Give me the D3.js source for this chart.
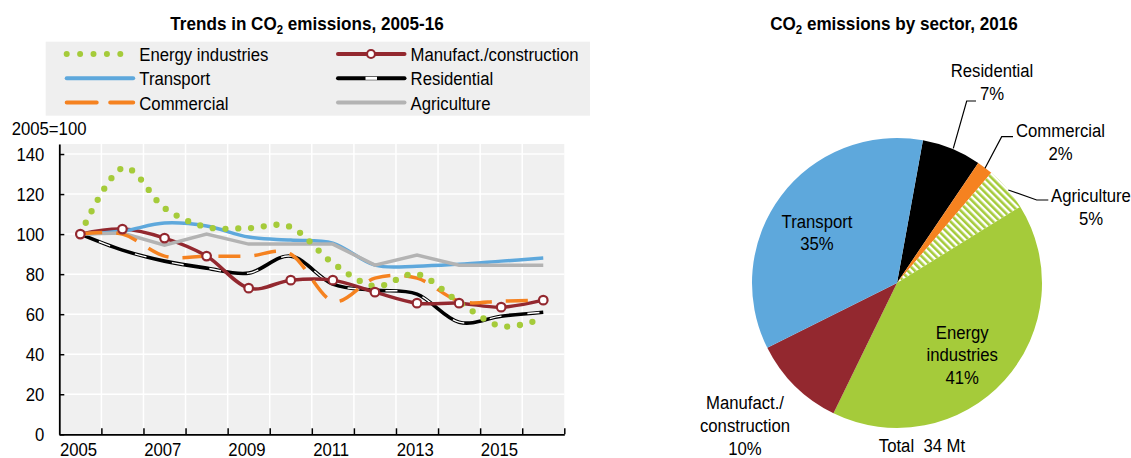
<!DOCTYPE html>
<html>
<head>
<meta charset="utf-8">
<script src="https://cdn.jsdelivr.net/npm/d3@7"></script>
<style>
body { margin: 0; background: #fff; }
text { font-family: "Liberation Sans", Arial, sans-serif; fill: #000; }
</style>
</head>
<body>
<div id="chart"></div>
<script>
// data, index 2005 = 100
var years = [2005, 2006, 2007, 2008, 2009, 2010, 2011, 2012, 2013, 2014, 2015, 2016];
var energyIndustries = [100, 133, 113, 103.5, 103, 103.5, 85.5, 74, 80, 66, 54, 58];
var manufConstruction = [100, 102.5, 98, 89, 73, 77, 77, 71, 65.5, 65.5, 63.5, 67];
var transport = [100, 101.5, 105.5, 104, 98.5, 97, 95.5, 84.5, 84, 85, 86.5, 88];
var residential = [100, 92, 86.5, 83, 80.5, 89, 75, 72, 70, 56, 59, 61];
var commercial = [100, 100, 89, 89, 89, 90, 66.5, 78, 78, 66.5, 66.5, 67];
var agriculture = [100, 100.5, 94.5, 100, 95, 95, 95, 84.5, 89.5, 84.5, 84.5, 84.5];
var yTicks = [0, 20, 40, 60, 80, 100, 120, 140];
var xLabelYears = [2005, 2007, 2009, 2011, 2013, 2015];

// pie, 2016 shares (%) clockwise from the top
var pieSectors = ['Residential', 'Commercial', 'Agriculture', 'Energy industries', 'Manufact./construction', 'Transport'];
var pieShares = [6.6, 1.8, 4.9, 41.0, 10.4, 35.2];
var totalMt = 34;

var width = 1131, height = 458;
var green = '#a5cb3a', blue = '#5ea8dc', red = '#93282f', orange = '#f58220', grey = '#b3b3b3';
var fs = 19, sx = 0.88;   // narrow look: regular font squeezed horizontally

var svg = d3.select('#chart').append('svg')
  .attr('width', width).attr('height', height);

var defs = svg.append('defs');
var hatch = defs.append('pattern')
  .attr('id', 'hatch')
  .attr('patternUnits', 'userSpaceOnUse')
  .attr('width', 5).attr('height', 5)
  .attr('patternTransform', 'rotate(-45)');
hatch.append('rect').attr('width', 5).attr('height', 5).attr('fill', '#fff');
hatch.append('rect').attr('width', 2.6).attr('height', 5).attr('fill', green);

// squeezed multi-line text
function label(parent, x, y, lines, lh, anchor) {
  var t = parent.append('g')
    .attr('transform', 'translate(' + x + ',' + y + ')')
    .append('text')
    .attr('transform', 'scale(' + sx + ',1)')
    .attr('text-anchor', anchor || 'start')
    .style('font-size', fs + 'px');
  lines.forEach(function(s, k) {
    t.append('tspan').attr('x', 0).attr('y', k * lh).text(s);
  });
  return t;
}

// title with CO2 subscript
function title(x, y, before, after) {
  var t = svg.append('g')
    .attr('transform', 'translate(' + x + ',' + y + ')')
    .append('text')
    .attr('transform', 'scale(0.95,1)')
    .attr('text-anchor', 'middle')
    .style('font-weight', 'bold')
    .style('font-size', '18px');
  t.append('tspan').text(before + 'CO');
  t.append('tspan').attr('dy', 4).style('font-size', '12px').text('2');
  t.append('tspan').attr('dy', -4).text(after);
}
title(307, 30, 'Trends in ', ' emissions, 2005-16');
title(894, 30, '', ' emissions by sector, 2016');

// ---------- line chart ----------
var plotLeft = 59.3, plotRight = 564.3, plotTop = 144, plotBottom = 434.3;

var x = d3.scaleBand().domain(years).range([plotLeft, plotRight]);
var xEdge = d3.scaleLinear().domain([2004.5, 2016.5]).range([plotLeft, plotRight]);
var y = d3.scaleLinear().domain([0, 145]).range([plotBottom, plotTop]);

function xc(yr) { return x(yr) + x.bandwidth() / 2; }

svg.append('rect')
  .attr('x', plotLeft).attr('y', plotTop)
  .attr('width', plotRight - plotLeft).attr('height', plotBottom - plotTop)
  .attr('fill', '#f0f0f0');

// grid
svg.append('g').selectAll('line').data(yTicks.slice(1)).enter().append('line')
  .attr('x1', plotLeft).attr('x2', plotRight)
  .attr('y1', d => y(d)).attr('y2', d => y(d))
  .attr('stroke', '#fff').attr('stroke-width', 1.5);
svg.append('g').selectAll('line').data(d3.range(2005.5, 2016, 1)).enter().append('line')
  .attr('x1', d => xEdge(d)).attr('x2', d => xEdge(d))
  .attr('y1', plotTop).attr('y2', plotBottom)
  .attr('stroke', '#fff').attr('stroke-width', 1.5);

// legend
var legendItems = [
  {name: 'Energy industries', key: 'energy', col: 0, row: 0},
  {name: 'Transport', key: 'transport', col: 0, row: 1},
  {name: 'Commercial', key: 'commercial', col: 0, row: 2},
  {name: 'Manufact./construction', key: 'manuf', col: 1, row: 0},
  {name: 'Residential', key: 'residential', col: 1, row: 1},
  {name: 'Agriculture', key: 'agriculture', col: 1, row: 2}
];
svg.append('rect')
  .attr('x', 45.7).attr('y', 41.7).attr('width', 544.3).attr('height', 74)
  .attr('fill', '#efefef');

var lg = svg.append('g').selectAll('g').data(legendItems).enter().append('g')
  .attr('transform', d => 'translate(' + (d.col ? 338 : 66.7) + ',' + (54 + d.row * 24.3) + ')');

lg.each(function(d) {
  var g = d3.select(this);
  if (d.key == 'energy') {
    g.append('line').attr('x1', 0).attr('x2', 56)
      .attr('stroke', green).attr('stroke-width', 6)
      .attr('stroke-linecap', 'round').attr('stroke-dasharray', '0,13.4');
  } else if (d.key == 'transport') {
    g.append('line').attr('x1', 0).attr('x2', 66.5)
      .attr('stroke', blue).attr('stroke-width', 4).attr('stroke-linecap', 'round');
  } else if (d.key == 'commercial') {
    g.append('line').attr('x1', 0).attr('x2', 66.5)
      .attr('stroke', orange).attr('stroke-width', 4).attr('stroke-linecap', 'round')
      .attr('stroke-dasharray', '30,13.5');
  } else if (d.key == 'manuf') {
    g.append('line').attr('x1', 0).attr('x2', 66.5)
      .attr('stroke', red).attr('stroke-width', 4).attr('stroke-linecap', 'round');
    g.append('circle').attr('cx', 33).attr('r', 4)
      .attr('fill', '#fff').attr('stroke', red).attr('stroke-width', 2.2);
  } else if (d.key == 'residential') {
    g.append('line').attr('x1', 0).attr('x2', 66.5)
      .attr('stroke', '#000').attr('stroke-width', 4).attr('stroke-linecap', 'round');
    g.append('rect').attr('x', 27.5).attr('y', -1.5).attr('width', 11.5).attr('height', 3)
      .attr('fill', '#fff');
  } else {
    g.append('line').attr('x1', 0).attr('x2', 66.5)
      .attr('stroke', grey).attr('stroke-width', 4).attr('stroke-linecap', 'round');
  }
  label(g, 72.6, 7, [d.name]);
});

label(svg, 11.7, 135, ['2005=100']);

// series
var smooth = d3.line().x((d, i) => xc(years[i])).y(d => y(d)).curve(d3.curveCardinal.tension(0));
var straight = d3.line().x((d, i) => xc(years[i])).y(d => y(d));

var plot = svg.append('g');

plot.append('path').datum(residential)
  .attr('d', smooth).attr('fill', 'none')
  .attr('stroke', '#000').attr('stroke-width', 3.6);
plot.append('path').datum(residential)
  .attr('d', smooth).attr('fill', 'none')
  .attr('stroke', '#fff').attr('stroke-width', 1.4)
  .attr('stroke-dasharray', '12,26').attr('stroke-dashoffset', -20);

plot.append('path').datum(manufConstruction)
  .attr('d', smooth).attr('fill', 'none')
  .attr('stroke', red).attr('stroke-width', 3.5);

plot.append('path').datum(transport)
  .attr('d', smooth).attr('fill', 'none')
  .attr('stroke', blue).attr('stroke-width', 3.5);

plot.append('path').datum(agriculture)
  .attr('d', straight).attr('fill', 'none')
  .attr('stroke', grey).attr('stroke-width', 3.5);

plot.append('path').datum(commercial)
  .attr('d', smooth).attr('fill', 'none')
  .attr('stroke', orange).attr('stroke-width', 3.5)
  .attr('stroke-dasharray', '22,14');

plot.append('path').datum(energyIndustries)
  .attr('d', smooth).attr('fill', 'none')
  .attr('stroke', green).attr('stroke-width', 6.3)
  .attr('stroke-linecap', 'round').attr('stroke-dasharray', '0,12.8');

plot.selectAll('.mk').data(manufConstruction).enter().append('circle')
  .attr('class', 'mk')
  .attr('cx', (d, i) => xc(years[i])).attr('cy', d => y(d))
  .attr('r', 4.3)
  .attr('fill', '#fff').attr('stroke', red).attr('stroke-width', 2.2);

// axes
var yAxis = svg.append('g')
  .attr('transform', 'translate(' + plotLeft + ',0)')
  .call(d3.axisLeft(y).tickValues(yTicks).tickSize(-5).tickSizeOuter(0).tickPadding(17));
var xTicks = svg.append('g')
  .attr('transform', 'translate(0,' + plotBottom + ')')
  .call(d3.axisBottom(xEdge).tickValues(d3.range(2005.5, 2017, 1)).tickSize(-6).tickSizeOuter(0).tickFormat(''));
var xAxis = svg.append('g')
  .attr('transform', 'translate(0,' + plotBottom + ')')
  .call(d3.axisBottom(x).tickValues(xLabelYears).tickSize(0).tickPadding(8));
xAxis.select('.domain').remove();

[yAxis, xTicks].forEach(function(a) {
  a.select('.domain').attr('stroke', '#000').attr('stroke-width', 1.8);
  a.selectAll('.tick line').attr('stroke', '#000').attr('stroke-width', 1.5);
});
[yAxis, xAxis].forEach(function(a) {
  a.selectAll('text')
    .attr('transform', 'scale(' + sx + ',1)')
    .style('font-size', fs + 'px')
    .style('font-family', '"Liberation Sans", Arial, sans-serif')
    .attr('fill', '#000');
});
xAxis.selectAll('text').attr('dx', -2);

// ---------- pie ----------
var cx = 897, cy = 283, radius = 145;
var startAngle = 10.3 * Math.PI / 180;
var pieColors = ['#000', orange, 'url(#hatch)', green, red, blue];

var pie = d3.pie().sort(null).startAngle(startAngle).endAngle(startAngle + 2 * Math.PI);
var arcs = pie(pieShares);
var arc = d3.arc().innerRadius(0).outerRadius(radius);

var pg = svg.append('g').attr('transform', 'translate(' + cx + ',' + cy + ')');
pg.selectAll('path').data(arcs).enter().append('path')
  .attr('d', arc)
  .attr('fill', (d, i) => pieColors[i]);

function pct(v) { return Math.round(v) + '%'; }

// labels inside slices
var inner = d3.arc().innerRadius(100).outerRadius(100);
var insideLabels = [
  {i: 5, lines: ['Transport', pct(pieShares[5])], dx: 0, dy: 9},
  {i: 3, lines: ['Energy', 'industries', pct(pieShares[3])], dx: -9, dy: 4}
];
insideLabels.forEach(function(l) {
  var c = inner.centroid(arcs[l.i]);
  var n = l.lines.length;
  label(pg, c[0] + l.dx, c[1] + l.dy - (n - 1) / 2 * 22.5 + 7, l.lines, 22.5, 'middle');
});

// labels outside with leader lines (positions relative to the pie centre)
var outsideLabels = [
  {i: 0, lines: ['Residential', pct(pieShares[0])], x: 95, y: -206, leader: [[79, -182], [69.7, -182], [56.3, -134.7]]},
  {i: 1, lines: ['Commercial', pct(pieShares[1])], x: 163.5, y: -146.3, leader: [[116, -146.3], [104.7, -146.3], [88, -114.7]]},
  {i: 2, lines: ['Agriculture', pct(pieShares[2])], x: 194, y: -81.3, leader: [[111.3, -93], [139.7, -83], [151.3, -83]]},
  {i: 4, lines: ['Manufact./', 'construction', pct(pieShares[4])], x: -152, y: 126, leader: null}
];
outsideLabels.forEach(function(l) {
  label(pg, l.x, l.y, l.lines, 23, 'middle');
  if (l.leader) {
    pg.append('path')
      .attr('d', d3.line()(l.leader))
      .attr('fill', 'none')
      .attr('stroke', '#000').attr('stroke-width', 1.2);
  }
});

label(pg, 25, 169, ['Total\u00a0\u00a0' + totalMt + ' Mt'], 0, 'middle');
</script>
</body>
</html>
